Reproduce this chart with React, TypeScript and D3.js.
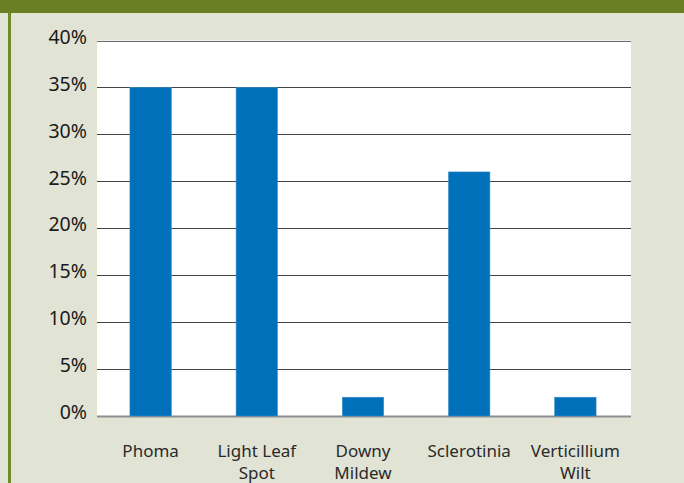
import React from "react";
import * as d3 from "d3";

const categories: string[][] = [
  ["Phoma"],
  ["Light Leaf", "Spot"],
  ["Downy", "Mildew"],
  ["Sclerotinia"],
  ["Verticillium", "Wilt"],
];
const values: number[] = [35, 35, 2, 26, 2];
const yTicks: number[] = [0, 5, 10, 15, 20, 25, 30, 35, 40];

const W = 684;
const H = 483;
const plot = { left: 97, right: 631, top: 40.5, bottom: 416 };
const FONT = "'Noto Sans', 'Open Sans', sans-serif";

export default function App() {
  const x = d3
    .scaleBand<number>()
    .domain(values.map((_, i) => i))
    .range([plot.left, plot.right - 2])
    .paddingInner(0.61)
    .paddingOuter(0.31);
  const y = d3.scaleLinear().domain([0, 40]).range([plot.bottom, plot.top]);

  return (
    <svg
      width={W}
      height={H}
      style={{ position: "absolute", left: 0, top: 0, display: "block" }}
      fontFamily={FONT}
    >
      {/* page background and green frame */}
      <rect x={0} y={0} width={W} height={H} fill="#e1e3d4" />
      <rect x={0} y={0} width={W} height={13} fill="#6a7f23" />
      <rect x={8} y={13} width={3} height={H - 13} fill="#6f8a2a" />

      {/* plot area */}
      <rect
        x={plot.left}
        y={plot.top}
        width={plot.right - plot.left}
        height={plot.bottom - plot.top}
        fill="#ffffff"
      />

      {/* gridlines */}
      {yTicks.map((t) => (
        <line
          key={t}
          x1={plot.left}
          x2={plot.right}
          y1={Math.round(y(t)) + 0.5}
          y2={Math.round(y(t)) + 0.5}
          stroke={t === 0 ? "#8e8e8e" : t === 40 ? "#6a6a6a" : "#444444"}
          strokeWidth={t === 0 ? 2 : 1}
        />
      ))}

      {/* bars */}
      {values.map((v, i) => (
        <rect
          key={i}
          x={x(i)}
          y={y(v)}
          width={x.bandwidth()}
          height={y(0) - y(v)}
          fill="#0070ba"
          stroke="#3d92cc"
          strokeWidth={0.6}
        />
      ))}

      {/* y tick labels */}
      {yTicks.map((t) => (
        <text
          key={t}
          x={plot.left - 10}
          y={y(t) - 2}
          textAnchor="end"
          dominantBaseline="middle"
          fontSize={19.5}
          fill="#1a1a1a"
        >
          {t}%
        </text>
      ))}

      {/* category labels */}
      {categories.map((lines, i) => {
        const cx = (x(i) ?? 0) + x.bandwidth() / 2;
        return (
          <text key={i} x={cx} y={457} textAnchor="middle" fontSize={17} fill="#2a2a2a">
            {lines.map((ln, j) => (
              <tspan key={j} x={cx} dy={j === 0 ? 0 : 21.5}>
                {ln}
              </tspan>
            ))}
          </text>
        );
      })}
    </svg>
  );
}
